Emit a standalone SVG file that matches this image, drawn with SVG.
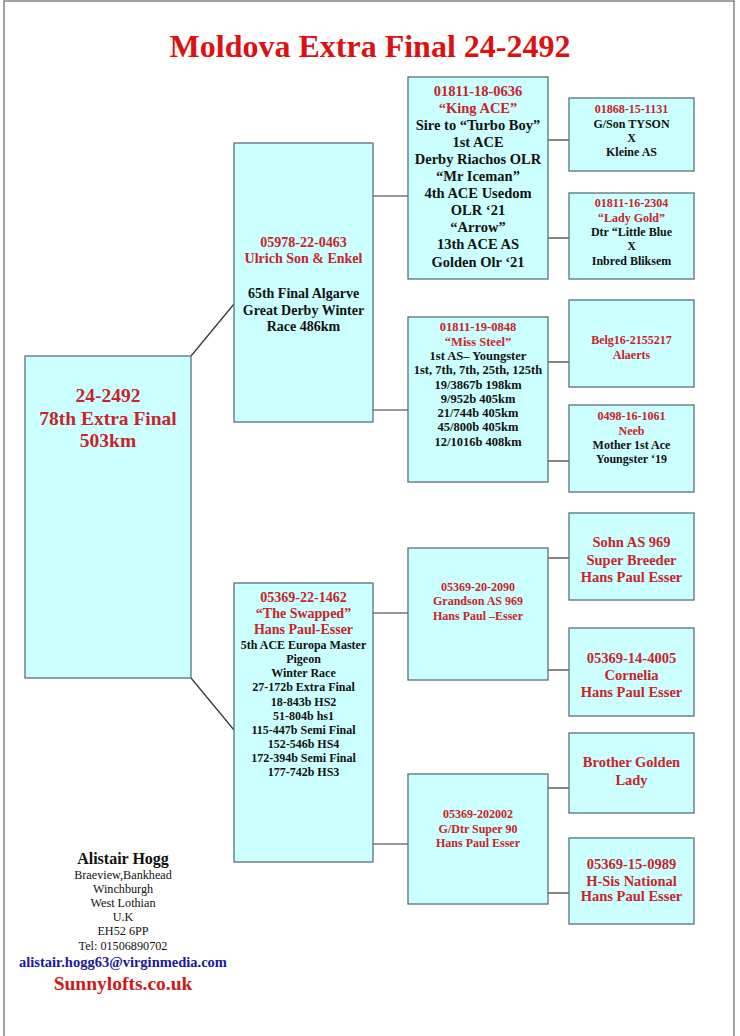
<svg xmlns="http://www.w3.org/2000/svg" width="740" height="1036" viewBox="0 0 740 1036">
<style>
.box{fill:#ccffff;stroke:#56727c;stroke-width:1.3}
.ln{stroke:#333;stroke-width:1.2;fill:none}
text{font-family:"Liberation Serif","Times New Roman",serif;font-weight:bold;text-anchor:middle}
.r{fill:#c8242a}
.k{fill:#111}
.f19{font-size:19.5px}
.f14{font-size:14px}
.f145{font-size:14.5px}
.f125{font-size:12.5px}
.f12{font-size:12px}
.reg{font-weight:normal;font-size:12.2px;fill:#111}
</style>
<rect x="4" y="1" width="730" height="1045" fill="#fff" stroke="#666" stroke-width="1.2"/>
<text x="370" y="57" style="font-size:32px;fill:#dd1111">Moldova Extra Final 24-2492</text>

<g id="connectors">
<line class="ln" x1="191" y1="356" x2="234" y2="304"/>
<line class="ln" x1="191" y1="678" x2="234" y2="730"/>
<line class="ln" x1="373" y1="196" x2="408" y2="196"/>
<line class="ln" x1="373" y1="410" x2="408" y2="410"/>
<line class="ln" x1="373" y1="613" x2="408" y2="613"/>
<line class="ln" x1="373" y1="844" x2="408" y2="844"/>
<line class="ln" x1="548" y1="140" x2="569" y2="140"/>
<line class="ln" x1="548" y1="238" x2="569" y2="238"/>
<line class="ln" x1="548" y1="362" x2="569" y2="362"/>
<line class="ln" x1="548" y1="461" x2="569" y2="461"/>
<line class="ln" x1="548" y1="558" x2="569" y2="558"/>
<line class="ln" x1="548" y1="670" x2="569" y2="670"/>
<line class="ln" x1="548" y1="788" x2="569" y2="788"/>
<line class="ln" x1="548" y1="893" x2="569" y2="893"/>
</g>

<g id="root">
<rect class="box" x="25" y="356" width="166" height="322"/>
<text class="r f19" x="108" y="402">24-2492</text>
<text class="r f19" x="108" y="424.5">78th Extra Final</text>
<text class="r f19" x="108" y="447">503km</text>
</g>

<g id="sire">
<rect class="box" x="234" y="143" width="139" height="279"/>
<text class="r f14" x="303.5" y="246.5">05978-22-0463</text>
<text class="r f14" x="303.5" y="263">Ulrich Son &amp; Enkel</text>
<text class="k f14" x="303.5" y="298">65th Final Algarve</text>
<text class="k f14" x="303.5" y="314.5">Great Derby Winter</text>
<text class="k f14" x="303.5" y="331">Race 486km</text>
</g>

<g id="dam">
<rect class="box" x="234" y="583" width="139" height="279"/>
<text class="r f14" x="303.5" y="601.5">05369-22-1462</text>
<text class="r f14" x="303.5" y="618">“The Swapped”</text>
<text class="r f14" x="303.5" y="634">Hans Paul-Esser</text>
<text class="k f12" x="303.5" y="649">5th ACE Europa Master</text>
<text class="k f12" x="303.5" y="663">Pigeon</text>
<text class="k f12" x="303.5" y="677">Winter Race</text>
<text class="k f12" x="303.5" y="691">27-172b Extra Final</text>
<text class="k f12" x="303.5" y="705.5">18-843b HS2</text>
<text class="k f12" x="303.5" y="719.5">51-804b hs1</text>
<text class="k f12" x="303.5" y="734">115-447b Semi Final</text>
<text class="k f12" x="303.5" y="748">152-546b HS4</text>
<text class="k f12" x="303.5" y="762">172-394b Semi Final</text>
<text class="k f12" x="303.5" y="776">177-742b HS3</text>
</g>

<g id="ss">
<rect class="box" x="408" y="77" width="140" height="202"/>
<text class="r f145" x="478" y="95.5">01811-18-0636</text>
<text class="r f145" x="478" y="112.6">“King ACE”</text>
<text class="k f145" x="478" y="129.7">Sire to “Turbo Boy”</text>
<text class="k f145" x="478" y="146.8">1st ACE</text>
<text class="k f145" x="478" y="163.9">Derby Riachos OLR</text>
<text class="k f145" x="478" y="181">“Mr Iceman”</text>
<text class="k f145" x="478" y="198.1">4th ACE Usedom</text>
<text class="k f145" x="478" y="215.2">OLR ‘21</text>
<text class="k f145" x="478" y="232.3">“Arrow”</text>
<text class="k f145" x="478" y="249.4">13th ACE AS</text>
<text class="k f145" x="478" y="266.5">Golden Olr ‘21</text>
</g>

<g id="sd">
<rect class="box" x="408" y="317" width="140" height="165"/>
<text class="r f125" x="478" y="331.3">01811-19-0848</text>
<text class="r f125" x="478" y="345.6">“Miss Steel”</text>
<text class="k f125" x="478" y="359.9">1st AS– Youngster</text>
<text class="k f125" x="478" y="374.2">1st, 7th, 7th, 25th, 125th</text>
<text class="k f125" x="478" y="388.5">19/3867b 198km</text>
<text class="k f125" x="478" y="402.8">9/952b 405km</text>
<text class="k f125" x="478" y="417.1">21/744b 405km</text>
<text class="k f125" x="478" y="431.4">45/800b 405km</text>
<text class="k f125" x="478" y="445.7">12/1016b 408km</text>
</g>

<g id="ds">
<rect class="box" x="408" y="548" width="140" height="132"/>
<text class="r f12" x="478" y="591">05369-20-2090</text>
<text class="r f12" x="478" y="605.3">Grandson AS 969</text>
<text class="r f12" x="478" y="619.6">Hans Paul –Esser</text>
</g>

<g id="dd">
<rect class="box" x="408" y="774" width="140" height="130"/>
<text class="r f12" x="478" y="818.3">05369-202002</text>
<text class="r f12" x="478" y="832.6">G/Dtr Super 90</text>
<text class="r f12" x="478" y="846.9">Hans Paul Esser</text>
</g>

<g id="sss">
<rect class="box" x="569" y="98" width="125" height="73"/>
<text class="r f12" x="631.5" y="113.2">01868-15-1131</text>
<text class="k f12" x="631.5" y="127.5">G/Son TYSON</text>
<text class="k f12" x="631.5" y="141.8">X</text>
<text class="k f12" x="631.5" y="156.1">Kleine AS</text>
</g>

<g id="ssd">
<rect class="box" x="569" y="193" width="125" height="86"/>
<text class="r f12" x="631.5" y="207.3">01811-16-2304</text>
<text class="r f12" x="631.5" y="221.6">“Lady Gold”</text>
<text class="k f12" x="631.5" y="235.9">Dtr “Little Blue</text>
<text class="k f12" x="631.5" y="250.2">X</text>
<text class="k f12" x="631.5" y="264.5">Inbred Bliksem</text>
</g>

<g id="sds">
<rect class="box" x="569" y="300" width="125" height="87"/>
<text class="r f12" x="631.5" y="344.2">Belg16-2155217</text>
<text class="r f12" x="631.5" y="358.5">Alaerts</text>
</g>

<g id="sdd">
<rect class="box" x="569" y="405" width="125" height="87"/>
<text class="r f12" x="631.5" y="420.3">0498-16-1061</text>
<text class="r f12" x="631.5" y="434.6">Neeb</text>
<text class="k f12" x="631.5" y="448.9">Mother 1st Ace</text>
<text class="k f12" x="631.5" y="463.2">Youngster ‘19</text>
</g>

<g id="dss">
<rect class="box" x="569" y="513" width="125" height="87"/>
<text class="r f145" x="631.5" y="547">Sohn AS 969</text>
<text class="r f145" x="631.5" y="564.5">Super Breeder</text>
<text class="r f145" x="631.5" y="581.5">Hans Paul Esser</text>
</g>

<g id="dsd">
<rect class="box" x="569" y="628" width="125" height="88"/>
<text class="r f145" x="631.5" y="663">05369-14-4005</text>
<text class="r f145" x="631.5" y="680">Cornelia</text>
<text class="r f145" x="631.5" y="697">Hans Paul Esser</text>
</g>

<g id="dds">
<rect class="box" x="569" y="733" width="125" height="80"/>
<text class="r f145" x="631.5" y="767">Brother Golden</text>
<text class="r f145" x="631.5" y="785">Lady</text>
</g>

<g id="ddd">
<rect class="box" x="569" y="838" width="125" height="86"/>
<text class="r f145" x="631.5" y="869">05369-15-0989</text>
<text class="r f145" x="631.5" y="885.5">H-Sis National</text>
<text class="r f145" x="631.5" y="901">Hans Paul Esser</text>
</g>

<g id="contact">
<text x="123" y="864" style="font-size:16px;fill:#111">Alistair Hogg</text>
<text class="reg" x="123" y="879">Braeview,Bankhead</text>
<text class="reg" x="123" y="893">Winchburgh</text>
<text class="reg" x="123" y="907">West Lothian</text>
<text class="reg" x="123" y="921">U.K</text>
<text class="reg" x="123" y="935">EH52 6PP</text>
<text class="reg" x="123" y="950">Tel: 01506890702</text>
<text x="123" y="967" style="font-size:14.5px;fill:#1a1a96">alistair.hogg63@virginmedia.com</text>
<text x="123" y="989.5" style="font-size:19.5px;fill:#cc1a1a">Sunnylofts.co.uk</text>
</g>
</svg>
